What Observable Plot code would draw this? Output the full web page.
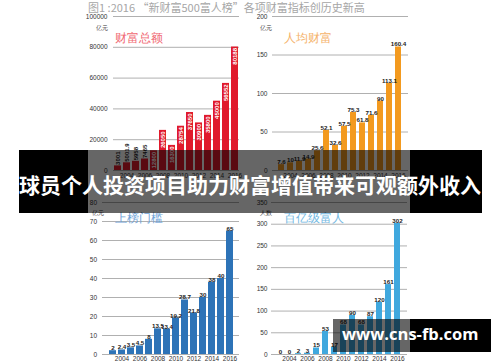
<!DOCTYPE html>
<html><head><meta charset="utf-8">
<script src="https://cdn.jsdelivr.net/npm/d3@7"></script>
<script src="https://cdn.jsdelivr.net/npm/@observablehq/plot@0.6"></script>
<style>
body{margin:0;background:#fff;}
#wrap{position:relative;width:500px;height:362px;overflow:hidden;font-family:"Noto Sans CJK SC",sans-serif;}
#wrap svg{position:absolute;}
.hdr{position:absolute;left:88px;top:1px;font-size:11px;line-height:12px;color:#a6a6a6;white-space:nowrap;}
.blk{position:absolute;background:#000;}
.dim{position:absolute;background:rgba(0,0,0,0.6);}
.band-text{position:absolute;left:0;width:500px;top:172px;text-align:center;font-size:21px;line-height:24px;font-weight:700;color:#fff;white-space:nowrap;}
.wm{position:absolute;left:342px;top:326px;font-family:"Open Sans",sans-serif;font-weight:700;font-size:16.5px;line-height:16.5px;color:#fff;white-space:nowrap;}
</style></head><body><div id="wrap"></div>
<script>
const years = [2003,2004,2005,2006,2007,2008,2009,2010,2011,2012,2013,2014,2015,2016];
const xTicks = [2004,2006,2008,2010,2012,2014,2016];
const totalWealth = [3001,5001.9,5958,7465,12800,26050,16300,28754,37650,30900,35800,45000,56552,80188];
const perCapita = [7.6,10,11.9,14.9,25.6,52.1,32.6,57.5,75.3,61.8,71.6,90,113.1,160.4];
const threshold = [2,2.4,3.5,4.5,8,13.5,13.4,19.2,28.7,21.8,30,38,40,65];
const billionaires = [0,0,2,3,15,53,17,68,90,68,87,120,161,302];
const ticksTotal = [0,20000,40000,60000,80000,100000];
const ticksPer = [0,50,100,150,200];
const ticksThr = [0,10,20,30,40,50,60,70,80];
const ticksBil = [0,50,100,150,200,250,300,350];
const headerText = "图1 :2016 “新财富500富人榜”各项财富指标创历史新高";
const bandText = "球员个人投资项目助力财富增值带来可观额外收入";
const watermark = "www.cns-fb.com";

const labelFont = "'Liberation Sans',Arial,sans-serif";

function panel(o){
  const data = years.map((y,i)=>({year:y, value:o.values[i]}));
  const marks = [
    Plot.ruleY(o.yTicks, {stroke:"#b0b0b0", strokeWidth:1}),
    Plot.barY(data, {x:"year", y:"value", fill:o.color}),
    Plot.axisY({ticks:o.yTicks, tickSize:0, tickPadding:o.yPad, tickFormat:d=>String(d), label:null}),
    Plot.axisX({ticks:xTicks, tickSize:0, tickPadding:o.xPad, tickFormat:d=>String(d), label:null}),
    Plot.text([o.unit], {text:d=>d, frameAnchor:"top-left", textAnchor:"end", dx:o.unitDx, dy:o.unitDy, fontSize:6, fill:"#333"}),
    Plot.text([o.title], {text:d=>d, frameAnchor:"top-left", textAnchor:"start", dx:o.titleDx, dy:o.titleDy, fontSize:11.5, fill:o.titleColor}),
    ...o.labels(data)
  ];
  const svg = Plot.plot({
    width:o.width, height:o.height,
    marginLeft:o.ml, marginRight:o.mr, marginTop:o.mt, marginBottom:o.mb,
    x:{type:"band", domain:years, paddingInner:o.pi, paddingOuter:o.po, axis:null, label:null},
    y:{domain:o.yDomain, axis:null, label:null},
    style:{fontSize:"6.5px", fontFamily:"'Liberation Sans',Arial,sans-serif", color:"#333", background:"transparent", overflow:"visible"},
    marks
  });
  svg.style.left = o.left+"px";
  svg.style.top = o.top+"px";
  return svg;
}

function topLabels(data){
  return [Plot.text(data, {x:"year", y:"value", text:d=>String(d.value), lineAnchor:"bottom", dy:-0.5,
    fontSize:6.2, fontWeight:700, fontFamily:labelFont, fill:"#222", ariaLabel:"narrow-label"})];
}

const wrap = document.getElementById("wrap");

wrap.appendChild(panel({
  values:totalWealth, color:"#e01a2c", yTicks:ticksTotal, yDomain:[0,100000],
  unit:"亿元", unitDx:-6, unitDy:9, title:"财富总额", titleColor:"#f06872", titleDx:1, titleDy:17.5,
  width:250, height:190, left:0, top:0, ml:113, mr:11, mt:16, mb:20, pi:0.25, po:0.1, yPad:6, xPad:3,
  labels:(data)=>[
    Plot.text(data.filter(d=>d.value<10000), {x:"year", y:"value", text:d=>String(d.value), rotate:-90, textAnchor:"start", dy:-1,
      fontSize:6, fontWeight:700, fontFamily:labelFont, fill:"#222", ariaLabel:"rot-label"}),
    Plot.text(data.filter(d=>d.value>=10000), {x:"year", y:"value", text:d=>String(d.value), rotate:-90, textAnchor:"end", dy:1,
      fontSize:6, fontWeight:700, fontFamily:labelFont, fill:"#fff", ariaLabel:"rot-label"})
  ]
}));

wrap.appendChild(panel({
  values:perCapita, color:"#f39a1f", yTicks:ticksPer, yDomain:[0,200],
  unit:"亿元", unitDx:-1, unitDy:9, title:"人均财富", titleColor:"#f5b36b", titleDx:11, titleDy:17.5,
  width:250, height:190, left:250, top:0, ml:22, mr:92, mt:16, mb:20, pi:0.3, po:0.15, yPad:5, xPad:3,
  labels:topLabels
}));

wrap.appendChild(panel({
  values:threshold, color:"#2d73b7", yTicks:ticksThr, yDomain:[0,80],
  unit:"亿元", unitDx:1, unitDy:8, title:"上榜门槛", titleColor:"#6fa3d8", titleDx:12, titleDy:11,
  width:250, height:172, left:0, top:190, ml:102, mr:11, mt:12, mb:8, pi:0.25, po:0.05, yPad:5.5, xPad:1.5,
  labels:topLabels
}));

wrap.appendChild(panel({
  values:billionaires, color:"#40a8de", yTicks:ticksBil, yDomain:[0,350],
  unit:"人数", unitDx:0, unitDy:8, title:"百亿级富人", titleColor:"#72b8e2", titleDx:12, titleDy:11,
  width:250, height:172, left:250, top:190, ml:21, mr:93, mt:12, mb:8, pi:0.3, po:0.1, yPad:4, xPad:1.5,
  labels:topLabels
}));

// condense the value labels (narrow font look)
document.querySelectorAll('g[aria-label="narrow-label"] text').forEach(t=>{
  const L = t.getComputedTextLength();
  t.setAttribute("textLength", (L*0.68).toFixed(2));
  t.setAttribute("lengthAdjust", "spacingAndGlyphs");
});
document.querySelectorAll('g[aria-label="rot-label"] text').forEach(t=>{
  const L = t.getComputedTextLength();
  t.setAttribute("textLength", (L*0.92).toFixed(2));
  t.setAttribute("lengthAdjust", "spacingAndGlyphs");
});

function div(cls, css, text){
  const d = document.createElement("div");
  d.className = cls;
  Object.assign(d.style, css);
  if (text) d.textContent = text;
  wrap.appendChild(d);
  return d;
}
div("hdr", {}, headerText);
// banner
div("blk", {left:"19px", top:"150px", width:"69px", height:"63px"});
div("dim", {left:"88px", top:"150px", width:"322px", height:"63px"});
div("blk", {left:"410px", top:"150px", width:"72px", height:"63px"});
div("band-text", {}, bandText);
// watermark
div("dim", {left:"333px", top:"319px", width:"77px", height:"33px"});
div("blk", {left:"410px", top:"319px", width:"81px", height:"33px"});
div("wm", {}, watermark);
</script></body></html>
